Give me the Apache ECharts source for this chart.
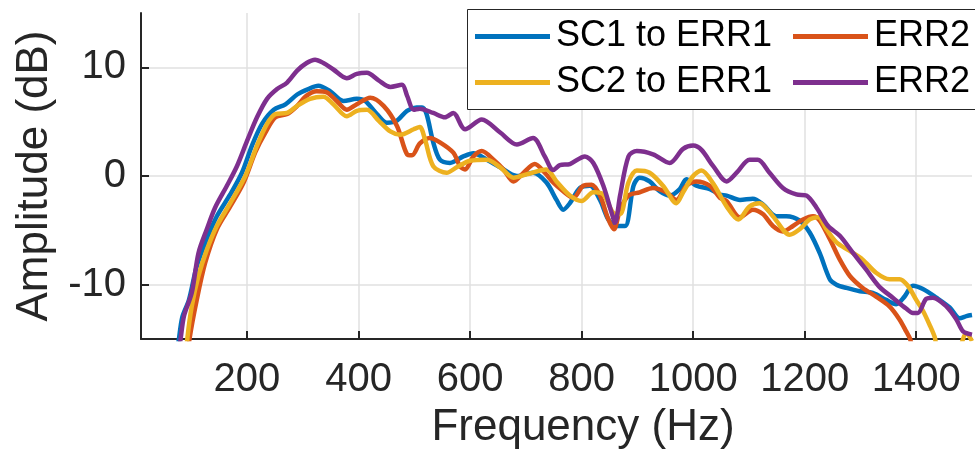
<!DOCTYPE html>
<html>
<head>
<meta charset="utf-8">
<script src="https://cdn.jsdelivr.net/npm/echarts@6/dist/echarts.min.js"></script>
<style>
  html, body { margin: 0; padding: 0; background: #fff; }
  #chart { width: 975px; height: 449px; }
</style>
</head>
<body>
<div id="chart"></div>
<script>
// frequency (Hz) / amplitude (dB), one pair of arrays per curve
var sc1Err1Freq = [72, 78, 84, 96, 110, 128, 146, 170, 191, 209, 227, 248, 269, 290, 310, 328, 349, 373, 397, 412, 433, 451, 469, 487, 504, 514, 522, 534, 546, 564, 588, 606, 630, 654, 684, 713, 737, 755, 767, 779, 797, 815, 833, 848, 863, 878, 893, 904, 922, 940, 958, 976, 988, 1006, 1030, 1048, 1060, 1084, 1107, 1125, 1149, 1167, 1191, 1209, 1227, 1245, 1257, 1275, 1299, 1322, 1346, 1364, 1379, 1394, 1412, 1436, 1460, 1478, 1490, 1500];
var sc1Err1Amp = [-17, -15, -13, -11.4, -8.3, -5.8, -3.7, -1.7, 0.3, 2.8, 4.8, 6.1, 6.6, 7.5, 8.0, 8.3, 7.8, 6.9, 7.1, 6.9, 5.7, 4.9, 5.1, 6.0, 6.3, 6.3, 5.7, 3.1, 1.5, 1.2, 1.8, 2.1, 1.5, 0.8, 0, 0.3, -0.6, -2.2, -3.1, -2.5, -1.1, -0.9, -2.2, -4.0, -4.6, -4.6, -0.9, -0.15, -0.5, -1.4, -1.8, -1.2, -0.3, -0.9, -1.2, -1.7, -1.8, -2.2, -2.1, -2.6, -3.7, -3.7, -4.1, -5.2, -7.1, -9.5, -10, -10.3, -10.6, -10.75, -11.4, -11.8, -11.1, -10.1, -10.4, -11.2, -12.1, -13.1, -12.9, -12.8];

var err2aFreq = [90, 97, 110, 125, 146, 170, 194, 215, 233, 251, 272, 290, 307, 325, 343, 361, 379, 397, 421, 445, 469, 487, 496, 510, 528, 546, 570, 582, 591, 606, 621, 642, 660, 678, 696, 716, 734, 749, 767, 785, 803, 818, 833, 848, 858, 869, 884, 904, 928, 952, 970, 988, 1006, 1030, 1048, 1060, 1084, 1107, 1125, 1143, 1161, 1179, 1197, 1215, 1227, 1245, 1263, 1281, 1304, 1328, 1352, 1370, 1382, 1389, 1395];
var err2aAmp = [-18, -15, -11.4, -8.0, -4.9, -2.8, -0.6, 2.2, 4.0, 5.4, 5.7, 6.45, 7.4, 7.8, 7.7, 6.9, 6.1, 6.6, 7.2, 6.45, 4.6, 2.0, 1.9, 3.0, 3.5, 3.1, 2.15, 0.9, 0.6, 1.8, 2.3, 1.5, 0.6, -0.5, 0.3, 1.1, 0.3, -0.6, -1.4, -2.0, -0.9, -0.8, -1.8, -4.0, -4.9, -3.1, -1.8, -1.5, -1.1, -1.5, -2.2, -0.9, -0.5, -0.9, -2.0, -2.3, -3.8, -3.1, -3.5, -4.6, -5.1, -4.6, -4.0, -3.7, -4.1, -5.8, -7.7, -9.2, -10.3, -11.1, -12.0, -13.2, -14.3, -15, -16.5];

var sc2Err1Freq = [88, 93, 101, 113, 128, 146, 170, 197, 218, 236, 251, 272, 290, 313, 337, 355, 379, 397, 415, 436, 457, 475, 499, 510, 519, 534, 558, 576, 600, 630, 654, 678, 701, 737, 755, 779, 800, 821, 839, 857, 869, 884, 899, 922, 946, 970, 982, 1000, 1015, 1036, 1060, 1081, 1101, 1119, 1143, 1173, 1191, 1209, 1224, 1239, 1257, 1281, 1304, 1328, 1352, 1370, 1385, 1400, 1412, 1424, 1433, 1442, 1470, 1490, 1500];
var sc2Err1Amp = [-18, -15, -12, -9.2, -6.8, -4.6, -2.5, 0, 2.8, 4.8, 5.7, 5.8, 6.45, 7.1, 7.3, 6.6, 5.5, 6.0, 6.1, 5.1, 4.1, 3.8, 4.3, 4.5, 3.4, 0.9, 0.3, 0.8, 1.4, 1.5, 0.8, -0.15, 0.15, 0.6, -0.5, -1.8, -2.3, -1.5, -1.7, -3.4, -3.5, -0.6, 0.5, 0.3, -0.9, -2.5, -1.5, 0, 0.5, -0.7, -2.8, -4.0, -2.8, -2.5, -3.7, -5.4, -4.9, -4.0, -3.8, -4.9, -6.1, -6.9, -7.7, -8.9, -9.5, -9.5, -10.1, -11.4, -12.4, -13.7, -14.8, -16.5, -16.5, -14.5, -15.2];

var err2bFreq = [75, 81, 87, 101, 113, 128, 143, 164, 182, 200, 218, 236, 254, 272, 290, 307, 322, 337, 355, 379, 397, 415, 436, 457, 478, 487, 499, 510, 534, 555, 570, 591, 621, 654, 684, 713, 734, 749, 761, 779, 806, 821, 839, 854, 860, 869, 884, 899, 928, 958, 982, 1000, 1015, 1036, 1060, 1078, 1101, 1116, 1137, 1161, 1185, 1203, 1221, 1242, 1263, 1287, 1310, 1334, 1358, 1382, 1394, 1403, 1418, 1430, 1454, 1472, 1484, 1500];
var err2bAmp = [-17, -15, -12.9, -10.75, -7.1, -4.9, -2.9, -0.9, 0.9, 3.2, 5.4, 7.1, 8.0, 8.6, 9.7, 10.4, 10.7, 10.4, 9.8, 9.0, 9.4, 9.5, 8.8, 8.2, 8.4, 7.4, 6.1, 6.2, 5.8, 5.4, 5.8, 4.3, 5.2, 4.0, 2.9, 3.5, 1.8, 0.55, 1.0, 1.1, 1.8, 1.2, -0.9, -3.4, -4.3, -1.8, 1.8, 2.3, 2.0, 1.2, 2.5, 2.8, 2.4, 0.9, -0.5, 0.3, 1.5, 1.5, 0.3, -1.1, -1.7, -1.8, -2.9, -4.6, -5.5, -7.1, -8.6, -10.2, -11.2, -12.2, -12.6, -12.6, -11.3, -11.2, -12.0, -13.2, -14.3, -14.6];

var xTicks = [200, 400, 600, 800, 1000, 1200, 1400];
var yTicks = [-10, 0, 10];

var FONT = "'Liberation Sans', Arial, Helvetica, sans-serif";
var AXIS_COLOR = "#262626";

function zip(xs, ys) {
  var out = [];
  for (var i = 0; i < xs.length; i++) {
    out.push([xs[i], ys[i]]);
  }
  return out;
}

function makeSeries(name, color, xs, ys) {
  return {
    name: name,
    type: "line",
    data: zip(xs, ys),
    showSymbol: false,
    symbol: "none",
    smooth: 0.3,
    clip: true,
    lineStyle: { width: 4.5, color: color },
    itemStyle: { color: color }
  };
}

// plain numbers, no thousands separator
function plainLabel(v) {
  return String(v);
}

var legendCommon = {
  orient: "vertical",
  top: 18.5,
  padding: 0,
  itemGap: 10,
  itemWidth: 75,
  itemHeight: 5,
  icon: "rect",
  selectedMode: false,
  textStyle: { fontSize: 36, fontFamily: FONT, color: "#000", padding: [0, 0, 0, 1] }
};

var chart = echarts.init(document.getElementById("chart"));
var option = {
  animation: false,
  backgroundColor: "#fff",
  grid: {
    left: 141,
    right: 3,
    top: 13,
    bottom: 110,
    containLabel: false,
    outerBoundsMode: "none"
  },
  legend: [
    Object.assign({}, legendCommon, { left: 475, data: ["SC1 to ERR1", "SC2 to ERR1"] }),
    Object.assign({}, legendCommon, { left: 793, data: ["ERR2", "ERR2 "] })
  ],
  graphic: [
    {
      type: "rect",
      z: 3,
      shape: { x: 467.5, y: 9.5, width: 560, height: 100 },
      style: { fill: "#fff", stroke: AXIS_COLOR, lineWidth: 1 }
    }
  ],
  xAxis: {
    type: "value",
    min: 10,
    max: 1500,
    name: "Frequency (Hz)",
    nameLocation: "middle",
    nameGap: 67,
    nameTextStyle: { fontSize: 44, fontFamily: FONT, color: AXIS_COLOR, padding: [0, 0, 0, 53] },
    axisLine: { show: true, onZero: false, lineStyle: { color: AXIS_COLOR, width: 2 } },
    axisTick: { show: true, inside: true, length: 8, customValues: xTicks, lineStyle: { color: AXIS_COLOR, width: 2 } },
    axisLabel: { customValues: xTicks, formatter: plainLabel, margin: 21, fontSize: 40, fontFamily: FONT, color: AXIS_COLOR },
    splitLine: { show: true, lineStyle: { color: "#e0e0e0", width: 1.5 } }
  },
  yAxis: {
    type: "value",
    min: -15,
    max: 15,
    name: "Amplitude (dB)",
    nameLocation: "middle",
    nameGap: 84,
    nameTextStyle: { fontSize: 44, fontFamily: FONT, color: AXIS_COLOR },
    axisLine: { show: true, onZero: false, lineStyle: { color: AXIS_COLOR, width: 2 } },
    axisTick: { show: true, inside: true, length: 8, customValues: yTicks, lineStyle: { color: AXIS_COLOR, width: 2 } },
    axisLabel: { customValues: yTicks, formatter: plainLabel, margin: 15, fontSize: 40, fontFamily: FONT, color: AXIS_COLOR },
    splitLine: { show: true, lineStyle: { color: "#e0e0e0", width: 1.5 } }
  },
  series: [
    makeSeries("SC1 to ERR1", "#0072BD", sc1Err1Freq, sc1Err1Amp),
    makeSeries("ERR2", "#D95319", err2aFreq, err2aAmp),
    makeSeries("SC2 to ERR1", "#EDB120", sc2Err1Freq, sc2Err1Amp),
    makeSeries("ERR2 ", "#7E2F8E", err2bFreq, err2bAmp)
  ]
};
chart.setOption(option);
</script>
</body>
</html>
